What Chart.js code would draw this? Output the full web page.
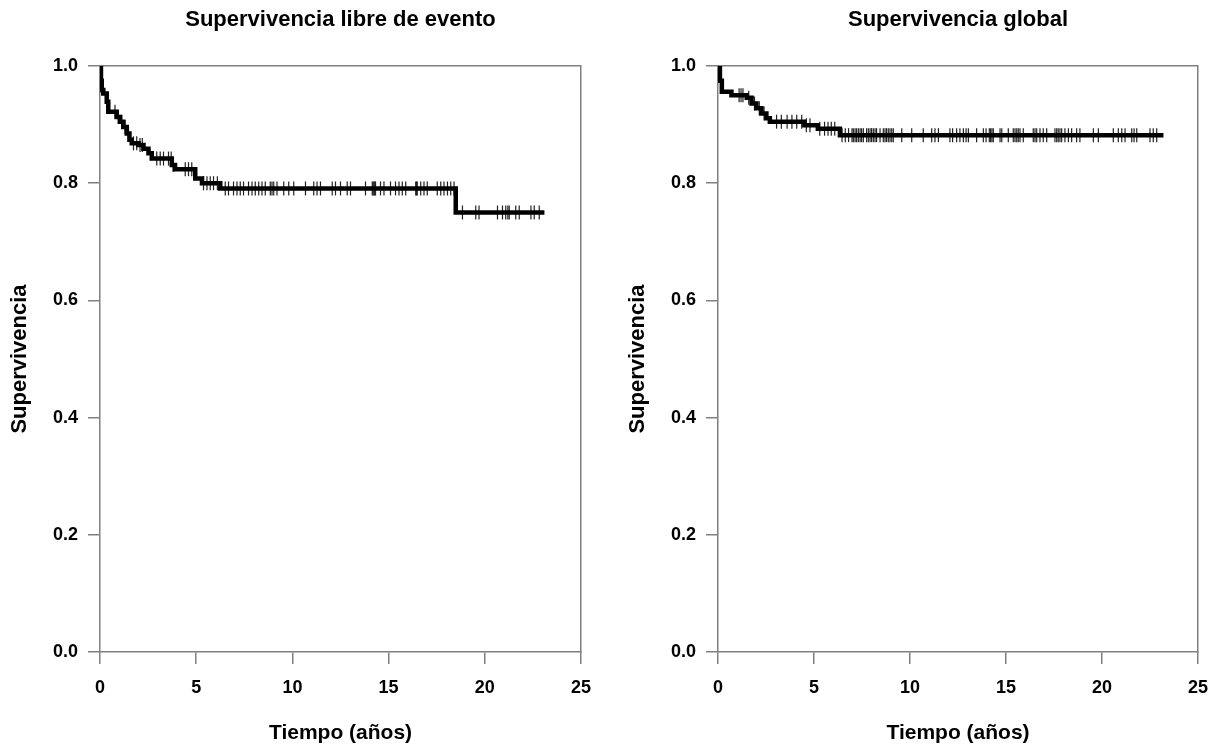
<!DOCTYPE html>
<html>
<head>
<meta charset="utf-8">
<script src="https://cdn.jsdelivr.net/npm/chart.js@4/dist/chart.umd.min.js"></script>
<style>
  html, body { margin: 0; background: #fff; overflow: hidden; }
  canvas { position: absolute; top: 0; }
  #efsChart { left: 0; }
  #osChart { left: 618px; }
</style>
</head>
<body>
<canvas id="efsChart" width="604" height="746"></canvas>
<canvas id="osChart" width="603" height="746"></canvas>
<script>
// Supervivencia libre de evento: event times (years) and survival after each event
var efsTimes = [0, 0.05, 0.09, 0.17, 0.35, 0.43, 0.87, 1.04, 1.21, 1.39, 1.53, 1.65, 2.0, 2.26, 2.52, 2.69, 3.73, 3.9, 4.95, 5.3, 6.25, 18.49, 23.1];
var efsSurv = [1.0, 0.975, 0.959, 0.953, 0.939, 0.922, 0.913, 0.905, 0.896, 0.885, 0.874, 0.868, 0.865, 0.859, 0.851, 0.842, 0.831, 0.824, 0.808, 0.80, 0.791, 0.750, 0.750];
var efsCensored = [0.78, 0.95, 1.13, 1.30, 1.48, 1.74, 1.91, 2.08, 2.2, 2.95, 3.13, 3.30, 3.56, 3.7, 3.8,
    4.43, 4.6, 4.77, 5.38, 5.56, 5.73, 5.9, 6.1, 6.51, 6.68, 6.94, 7.12, 7.29, 7.46, 7.72, 7.9, 8.07,
    8.25, 8.42, 8.59, 8.85, 8.94, 9.03, 9.2, 9.55, 9.81, 10.07, 10.68, 11.11, 11.28, 11.46, 12.07,
    12.24, 12.5, 12.85, 13.02, 13.8, 14.15, 14.2, 14.24, 14.28, 14.32, 14.58, 14.76, 15.1, 15.36,
    15.54, 15.71, 15.89, 16.41, 16.45, 16.49, 16.67, 16.84, 17.01, 17.53, 17.71, 17.88, 18.06, 18.23,
    18.4, 18.84, 19.53, 19.7, 20.66, 20.92, 21.09, 21.2, 21.27, 21.61, 21.79, 22.4, 22.57, 22.83];

// Supervivencia global
var osTimes = [0, 0.1, 0.2, 0.7, 1.5, 1.75, 2.0, 2.26, 2.52, 2.7, 4.5, 5.2, 6.35, 23.2];
var osSurv = [1.0, 0.975, 0.956, 0.95, 0.946, 0.936, 0.928, 0.919, 0.911, 0.905, 0.899, 0.893, 0.882, 0.882];
var osCensored = [1.1, 1.2, 1.3, 1.6, 1.9, 2.15, 2.4, 3.05, 3.3, 3.6, 3.85, 4.1, 4.36, 4.6, 4.79, 5.3,
    5.55, 5.73, 5.9, 6.08, 6.46, 6.63, 6.8, 6.98, 7.05, 7.14, 7.22, 7.31, 7.40, 7.48, 7.57, 7.74, 7.83,
    7.92, 8.0, 8.09, 8.18, 8.26, 8.44, 8.61, 8.7, 8.78, 8.87, 8.96, 9.05, 9.13, 9.57, 10.09, 10.69,
    11.13, 11.3, 11.48, 12.08, 12.22, 12.43, 12.6, 12.78, 12.92, 13.04, 13.47, 13.82, 13.96, 14.13,
    14.2, 14.27, 14.34, 14.69, 14.78, 15.12, 15.38, 15.47, 15.56, 15.64, 15.73, 15.9, 16.42, 16.51,
    16.6, 16.77, 16.94, 17.12, 17.55, 17.64, 17.72, 17.81, 17.9, 18.07, 18.25, 18.42, 18.68, 18.85,
    19.55, 19.81, 20.59, 20.85, 21.03, 21.2, 21.55, 21.67, 21.81, 22.5, 22.67, 22.85];

var xTicks = [0, 5, 10, 15, 20, 25];
var yTicks = [0, 0.2, 0.4, 0.6, 0.8, 1.0];

var fontFamily = "'Liberation Sans', Arial, sans-serif";
var axisGrey = "#808080";

function survAt(times, surv, t) {
    var s = surv[0];
    for (var i = 0; i < times.length; i++) {
        if (times[i] <= t) s = surv[i];
    }
    return s;
}

function createKmChart(canvas, title, times, surv, censored) {
    var steps = times.map(function(t, i) { return {x: t, y: surv[i]}; });
    var marks = censored.map(function(t) { return {x: t, y: survAt(times, surv, t)}; });

    return new Chart(canvas, {
        type: 'scatter',
        data: {
            datasets: [{
                type: 'line',
                data: steps,
                stepped: true,
                borderColor: '#000',
                borderWidth: 4.5,
                pointRadius: 0,
                fill: false
            }, {
                data: marks,
                pointStyle: 'line',
                rotation: 90,
                radius: 7,
                borderWidth: 1.2,
                borderColor: '#222',
                backgroundColor: '#222'
            }]
        },
        options: {
            responsive: false,
            animation: false,
            layout: {padding: {left: 0, right: 15, top: 0, bottom: 0}},
            plugins: {legend: {display: false}, tooltip: {enabled: false}},
            scales: {
                x: {
                    type: 'linear',
                    position: 'bottom',
                    min: 0,
                    max: 25,
                    afterBuildTicks: function(scale) {
                        scale.ticks = xTicks.map(function(v) { return {value: v}; });
                    },
                    ticks: {
                        padding: 13,
                        color: '#000',
                        font: {family: fontFamily, size: 18, weight: 'bold'},
                        callback: function(v) { return v; }
                    },
                    grid: {display: true, drawOnChartArea: false, tickLength: 12, color: axisGrey, lineWidth: 1.5},
                    border: {display: true, color: axisGrey, width: 1.5},
                    title: {
                        display: true,
                        text: 'Tiempo (años)',
                        color: '#000',
                        font: {family: fontFamily, size: 21, weight: 'bold'},
                        padding: {top: 0, bottom: 0}
                    },
                    afterFit: function(scale) { scale.height = 94; }
                },
                y: {
                    type: 'linear',
                    position: 'left',
                    min: 0,
                    max: 1,
                    afterBuildTicks: function(scale) {
                        scale.ticks = yTicks.map(function(v) { return {value: v}; });
                    },
                    ticks: {
                        padding: 10,
                        color: '#000',
                        font: {family: fontFamily, size: 18, weight: 'bold'},
                        callback: function(v) { return v.toFixed(1); }
                    },
                    grid: {display: true, drawOnChartArea: false, tickLength: 12, color: axisGrey, lineWidth: 1.5},
                    border: {display: true, color: axisGrey, width: 1.5},
                    title: {
                        display: true,
                        text: 'Supervivencia',
                        color: '#000',
                        font: {family: fontFamily, size: 22, weight: 'bold'},
                        padding: {top: 7, bottom: 0}
                    },
                    afterFit: function(scale) { scale.width = 100; }
                },
                xTop: {
                    type: 'linear',
                    position: 'top',
                    min: 0,
                    max: 25,
                    ticks: {display: false},
                    grid: {display: false},
                    border: {display: true, color: axisGrey, width: 1.5},
                    title: {
                        display: true,
                        text: title,
                        color: '#000',
                        font: {family: fontFamily, size: 22, weight: 'bold'},
                        padding: {top: 7, bottom: 0}
                    },
                    afterFit: function(scale) { scale.height = 66; }
                },
                yRight: {
                    type: 'linear',
                    position: 'right',
                    min: 0,
                    max: 1,
                    ticks: {display: false},
                    grid: {display: false},
                    border: {display: true, color: axisGrey, width: 1.5},
                    afterFit: function(scale) { scale.width = 0; }
                }
            }
        }
    });
}

createKmChart(document.getElementById('efsChart'), 'Supervivencia libre de evento', efsTimes, efsSurv, efsCensored);
createKmChart(document.getElementById('osChart'), 'Supervivencia global', osTimes, osSurv, osCensored);
</script>
</body>
</html>
